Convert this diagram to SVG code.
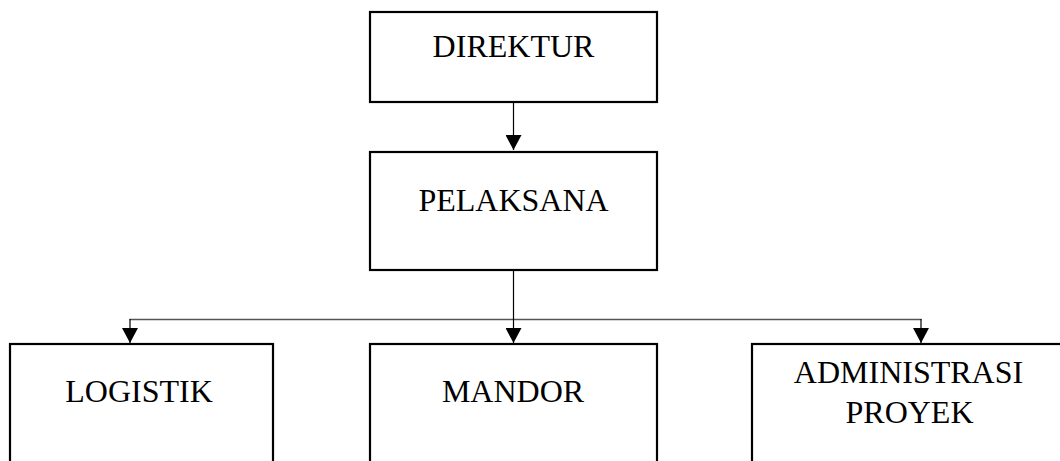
<svg xmlns="http://www.w3.org/2000/svg" width="1060" height="461" viewBox="0 0 1060 461">
  <style>
    .box { fill: #ffffff; stroke: #000000; stroke-width: 2.2; }
    .lbl { font-family: "Liberation Serif", "Times New Roman", serif; font-size: 32px; fill: #000000; text-anchor: middle; }
    .conn { fill: none; stroke: #000000; stroke-width: 1.2; }
    .bus { fill: none; stroke: #555555; stroke-width: 1.5; }
  </style>
  <defs>
    <marker id="arrow" viewBox="0 0 15 16" refX="15" refY="8" markerWidth="15" markerHeight="16" markerUnits="userSpaceOnUse" orient="auto">
      <path d="M0,0 L15,8 L0,16 z" fill="#000000"/>
    </marker>
  </defs>
  <rect width="1060" height="461" fill="#ffffff"/>

  <g id="connectors">
    <line class="conn" x1="513.5" y1="103" x2="513.5" y2="150" marker-end="url(#arrow)"/>
    <line class="bus" x1="129.5" y1="319.5" x2="921.5" y2="319.5"/>
    <line class="conn" x1="513.5" y1="271" x2="513.5" y2="343" marker-end="url(#arrow)"/>
    <line class="conn" x1="130" y1="319" x2="130" y2="343" marker-end="url(#arrow)"/>
    <line class="conn" x1="921" y1="319" x2="921" y2="343" marker-end="url(#arrow)"/>
  </g>

  <g id="direktur">
    <rect class="box" x="370" y="12" width="287" height="90"/>
    <text class="lbl" x="513.5" y="57">DIREKTUR</text>
  </g>
  <g id="pelaksana">
    <rect class="box" x="370" y="152" width="287" height="118"/>
    <text class="lbl" x="513.5" y="211">PELAKSANA</text>
  </g>
  <g id="logistik">
    <rect class="box" x="10" y="344" width="263" height="130"/>
    <text class="lbl" x="139" y="402">LOGISTIK</text>
  </g>
  <g id="mandor">
    <rect class="box" x="370" y="344" width="287" height="130"/>
    <text class="lbl" x="513" y="402">MANDOR</text>
  </g>
  <g id="administrasi">
    <rect class="box" x="752" y="344" width="330" height="130"/>
    <text class="lbl" x="908.5" y="383">ADMINISTRASI</text>
    <text class="lbl" x="909.5" y="423">PROYEK</text>
  </g>
</svg>
